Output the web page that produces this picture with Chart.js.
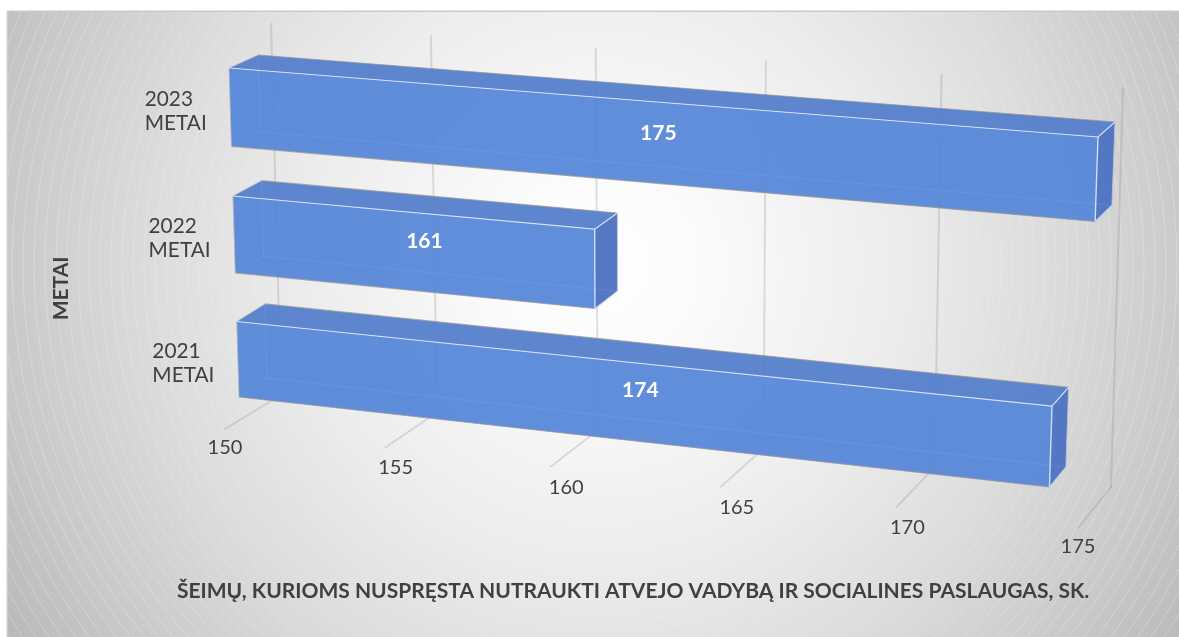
<!DOCTYPE html>
<html><head><meta charset="utf-8">
<style>html,body{margin:0;padding:0;background:#fff}#w{width:1179px;height:637px;position:relative}</style>
<script src="https://cdn.jsdelivr.net/npm/chart.js@4"></script></head>
<body><div id="w"><canvas id="c" width="1179" height="637"></canvas></div>
<script>
const categories = [["2023","METAI"],["2022","METAI"],["2021","METAI"]];
const values = [175, 161, 174];
const xMin = 150, xMax = 175, xStep = 5;
const xTitle = "ŠEIMŲ, KURIOMS NUSPRĘSTA NUTRAUKTI ATVEJO VADYBĄ IR SOCIALINES PASLAUGAS, SK.";
const yTitle = "METAI";

// Perspective quads of the 3D scene (TL, TR, BR, BL)
const FRONT = [[229,68],[1098,137],[1086,491],[239,397]];
const BACK  = [[258,55],[1115,122],[1102,471],[267,378]];
const WALL  = [[271,24],[1123,88],[1111,487],[281,395]];
const FLOOR_END = [[225,429],[1078,528]];
const TICK_LABEL = [[225,448],[1078,547]];
const LABEL_NUDGE = [[-5,-10],[10,-10],[-4,-13]];
const TEXT = "#404040", FONT = "Lato";

function homography(q){
  const [[x0,y0],[x1,y1],[x2,y2],[x3,y3]] = q;
  const dx1=x1-x2,dx2=x3-x2,sx=x0-x1+x2-x3,dy1=y1-y2,dy2=y3-y2,sy=y0-y1+y2-y3;
  const den=dx1*dy2-dx2*dy1;
  const g=(sx*dy2-dx2*sy)/den,h=(dx1*sy-sx*dy1)/den;
  const a=x1-x0+g*x1,b=x3-x0+h*x3,d=y1-y0+g*y1,e=y3-y0+h*y3;
  return (u,v)=>{const w=g*u+h*v+1;return [(a*u+b*v+x0)/w,(d*u+e*v+y0)/w];};
}
const hF=homography(FRONT),hB=homography(BACK),hW=homography(WALL);
function lineP(A,B,w0,u){const a=(1-u)*w0,b=u,s=a+b;return [(a*A[0]+b*B[0])/s,(a*A[1]+b*B[1])/s];}
function poly(ctx,pts){ctx.beginPath();pts.forEach((p,i)=>i?ctx.lineTo(p[0],p[1]):ctx.moveTo(p[0],p[1]));ctx.closePath();}
function seg(ctx,a,b,col,lw){ctx.beginPath();ctx.moveTo(a[0],a[1]);ctx.lineTo(b[0],b[1]);ctx.strokeStyle=col;ctx.lineWidth=lw;ctx.stroke();}

const scene = {
  id:"scene",
  beforeDraw(chart){
    const ctx=chart.ctx;ctx.save();
    ctx.fillStyle="#fff";ctx.fillRect(0,0,1179,637);
    ctx.beginPath();ctx.rect(7,11,1172,626);ctx.clip();
    const cx=600,cy=265,R=690;
    const g=ctx.createRadialGradient(cx,cy,0,cx,cy,R);
    g.addColorStop(0,"#ffffff");g.addColorStop(100/R,"#fbfbfb");g.addColorStop(300/R,"#ececec");
    g.addColorStop(450/R,"#dcdcdc");g.addColorStop(600/R,"#c8c8c8");g.addColorStop(1,"#bababa");
    ctx.fillStyle=g;ctx.fillRect(7,11,1172,626);
    for(let r=170;r<R+20;r+=11){
      ctx.beginPath();ctx.arc(cx,cy,r,0,Math.PI*2);
      ctx.strokeStyle="rgba(255,255,255,"+Math.min(.42,(r-170)/1000+.02).toFixed(3)+")";
      ctx.lineWidth=.6;ctx.stroke();
    }
    ctx.restore();
    ctx.save();ctx.fillStyle="#c9c9c9";ctx.fillRect(7,10.5,1172,1.5);ctx.fillStyle="#d6d6d6";ctx.fillRect(6.5,11,1,626);ctx.restore();
  },
  beforeDatasetsDraw(chart){
    const ctx=chart.ctx,a=chart.chartArea,xs=chart.scales.x;
    ctx.save();ctx.lineCap="round";
    xs.ticks.forEach(t=>{
      const u=(xs.getPixelForValue(t.value)-a.left)/a.width;
      const top=hW(u,0),bot=hW(u,1),end=lineP(FLOOR_END[0],FLOOR_END[1],1.08,u);
      seg(ctx,top,bot,"rgba(130,130,130,.24)",2);
      seg(ctx,bot,end,"rgba(130,130,130,.26)",1.8);
    });
    ctx.fillStyle=TEXT;ctx.font="20px "+FONT;ctx.textAlign="center";ctx.textBaseline="middle";
    xs.ticks.forEach(t=>{
      const u=(xs.getPixelForValue(t.value)-a.left)/a.width;
      const p=lineP(TICK_LABEL[0],TICK_LABEL[1],1,u);
      ctx.fillText(t.label,p[0],p[1]);
    });
    ctx.restore();
  },
  beforeDatasetDraw(chart,args){
    const ctx=chart.ctx,a=chart.chartArea,bars=args.meta.data;
    const first=bars[0],last=bars[bars.length-1];
    const vTop=(first.y-first.height/2-a.top)/a.height,vBot=(last.y+last.height/2-a.top)/a.height;
    const nv=py=>((py-a.top)/a.height-vTop)/(vBot-vTop);
    const nu=px=>(px-a.left)/a.width;
    ctx.save();ctx.lineJoin="round";
    bars.forEach((b,i)=>{
      const u0=nu(b.base),u1=nu(b.x),vt=nv(b.y-b.height/2),vb=nv(b.y+b.height/2);
      const FTL=hF(u0,vt),FTR=hF(u1,vt),FBR=hF(u1,vb),FBL=hF(u0,vb);
      const BTL=hB(u0,vt),BTR=hB(u1,vt),BBR=hB(u1,vb),BBL=hB(u0,vb);
      poly(ctx,[FTL,FTR,BTR,BTL]);ctx.fillStyle="rgba(84,127,204,.95)";ctx.fill();
      poly(ctx,[FTR,BTR,BBR,FBR]);ctx.fillStyle="rgba(78,116,193,.97)";ctx.fill();
      poly(ctx,[FTL,FTR,FBR,FBL]);ctx.fillStyle="rgba(85,133,216,.93)";ctx.fill();
      // faint hidden edges
      const faint="rgba(150,185,240,.17)";
      seg(ctx,BTL,BBL,faint,1);seg(ctx,BBL,BBR,faint,1);seg(ctx,FBL,BBL,faint,1);seg(ctx,BBR,FBR,faint,1);
      // outer edges
      const grey="rgba(150,150,150,.75)";
      seg(ctx,FTL,BTL,"rgba(190,190,190,.8)",1);seg(ctx,BTL,BTR,grey,1.2);seg(ctx,BTR,BBR,"rgba(190,195,205,.8)",1);
      seg(ctx,FBL,FBR,grey,1.2);seg(ctx,FTL,FBL,"rgba(185,185,185,.8)",1);
      const light="rgba(225,235,250,.85)";
      seg(ctx,FTL,FTR,light,1.1);seg(ctx,FTR,FBR,light,1.4);seg(ctx,FTR,BTR,light,1.2);seg(ctx,FBR,BBR,"rgba(200,215,240,.75)",1.1);
      // data label
      ctx.fillStyle="#fff";ctx.font="bold 21px "+FONT;ctx.textAlign="center";ctx.textBaseline="middle";
      const c=[(FTL[0]+FTR[0]+FBR[0]+FBL[0])/4,(FTL[1]+FTR[1]+FBR[1]+FBL[1])/4];
      ctx.fillText(String(values[i]),c[0]+LABEL_NUDGE[i][0],c[1]+LABEL_NUDGE[i][1]);
      // category label
      const mid=hF(u0,(vt+vb)/2),lab=categories[i];
      ctx.fillStyle=TEXT;ctx.font="20.8px "+FONT;ctx.textAlign="left";
      lab.forEach((s,k)=>ctx.fillText(s,mid[0]-85.5,mid[1]+4+(k-(lab.length-1)/2)*23.5));
    });
    ctx.restore();
    return false;
  }
};

new Chart(document.getElementById("c"),{
  type:"bar",
  data:{labels:categories,datasets:[{label:yTitle,data:values,base:xMin,backgroundColor:"#5b8bd9",categoryPercentage:1,barPercentage:.61}]},
  plugins:[scene],
  options:{
    indexAxis:"y",responsive:false,animation:false,
    layout:{padding:{left:49,right:0,top:6,bottom:33}},
    plugins:{legend:{display:false},tooltip:{enabled:false}},
    scales:{
      x:{min:xMin,max:xMax,ticks:{stepSize:xStep,display:false},grid:{display:false},border:{display:false},
         title:{display:true,text:xTitle,color:TEXT,font:{family:FONT,size:21,weight:"bold"},padding:0}},
      y:{ticks:{display:false},grid:{display:false},border:{display:false},
         title:{display:true,text:yTitle,color:TEXT,font:{family:FONT,size:21,weight:"bold"},padding:{top:0,bottom:5}}}
    }
  }
});
</script></body></html>
